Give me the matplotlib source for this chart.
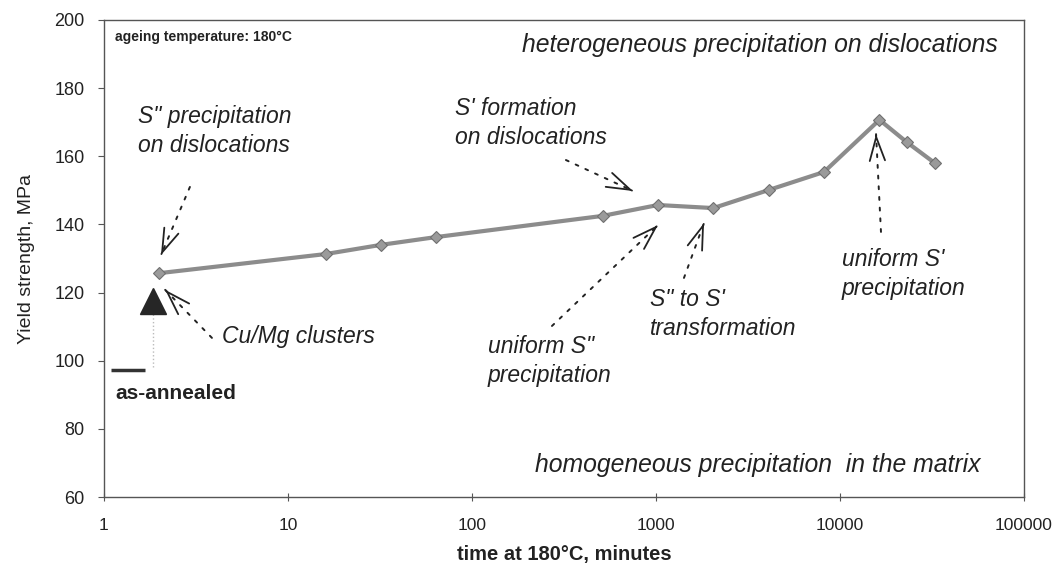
import numpy as np
import matplotlib
matplotlib.use('Agg')
import matplotlib.pyplot as plt

plt.rcParams['font.family'] = ['Liberation Sans', 'DejaVu Sans']

# ageing curve (minutes, MPa)
times = [2, 16, 32, 64, 512, 1024, 2048, 4096, 8192, 16384, 23000, 32768]
strength = [125.7, 131.3, 134.0, 136.3, 142.5, 145.7, 144.8, 150.1, 155.4, 170.7, 164.2, 158.0]

# Cu/Mg cluster point and as-annealed level
cluster_time = 1.85
cluster_strength = 117.5
annealed_times = [1.09, 1.67]
annealed_strength = 97.3

xticks = [1, 10, 100, 1000, 10000, 100000]
yticks = [60, 80, 100, 120, 140, 160, 180, 200]

# italic notes: text, x, y, alignment, size
notes = [
    ("S\" precipitation\non dislocations", 1.53, 167.4, 'left', 16.5),
    ("S' formation\non dislocations", 80.9, 169.8, 'left', 16.5),
    ("Cu/Mg clusters", 4.38, 107.0, 'left', 16.5),
    ("uniform S\"\nprecipitation", 122, 99.9, 'left', 16.5),
    ("S\" to S'\ntransformation", 927, 113.7, 'left', 16.5),
    ("uniform S'\nprecipitation", 10260, 125.5, 'left', 16.5),
    ("heterogeneous precipitation on dislocations", 72000, 192.7, 'right', 17.8),
    ("homogeneous precipitation  in the matrix", 57700, 69.4, 'right', 17.8),
]

# dotted arrows: (start, tip)
arrows = [
    ((2.93, 151.0), (2.04, 131.0)),
    ((324, 158.9), (750, 149.8)),
    ((272, 110.2), (1025, 139.8)),
    ((1419, 124.3), (1824, 140.4)),
    ((16700, 137.8), (15700, 166.5)),
    ((3.86, 106.7), (2.15, 120.8)),
]

ink = '#222222'

fig = plt.figure(figsize=(10.56, 5.70), dpi=100)
ax = fig.add_axes([104/1056, 1 - 497/570, 920/1056, 477/570])

ax.plot(times, strength, color='#8c8c8c', lw=3, marker='D', ms=6,
        mfc='#9a9a9a', mec='#707070', mew=0.8, zorder=3)

ax.vlines(cluster_time, annealed_strength + 1, cluster_strength, color='#bbbbbb',
          lw=1, ls=':', zorder=2)
ax.plot([cluster_time], [cluster_strength], marker='^', ms=19, color='#262626',
        ls='none', zorder=4)
ax.plot(annealed_times, [annealed_strength] * 2, color='#333333', lw=2.5,
        solid_capstyle='butt', zorder=3)

for (x0, y0), (x1, y1) in arrows:
    ax.annotate('', xy=(x1, y1), xytext=(x0, y0),
                arrowprops=dict(arrowstyle='-', ls=(0, (1.5, 4)), lw=1.4,
                                color=ink, shrinkA=0, shrinkB=0))
    lx = np.log10(x0) + 0.985 * (np.log10(x1) - np.log10(x0))
    ly = y0 + 0.985 * (y1 - y0)
    ax.annotate('', xy=(x1, y1), xytext=(10 ** lx, ly),
                arrowprops=dict(arrowstyle='->,head_length=1.7,head_width=0.55',
                                lw=1.3, color=ink, shrinkA=0, shrinkB=0))

for text, x, y, ha, size in notes:
    ax.text(x, y, text, ha=ha, va='center', fontsize=size, style='italic',
            color=ink, linespacing=1.32)

ax.text(1.15, 195, "ageing temperature: 180°C", fontsize=10, weight='bold',
        color=ink, va='center', ha='left')
ax.text(1.16, 90.5, "as-annealed", fontsize=15, weight='bold',
        color=ink, va='center', ha='left')

ax.set_xscale('log')
ax.set_xlim(1, 100000)
ax.set_ylim(60, 200)
ax.set_xticks(xticks)
ax.set_xticklabels([str(t) for t in xticks])
ax.xaxis.set_minor_locator(matplotlib.ticker.NullLocator())
ax.set_yticks(yticks)
ax.tick_params(axis='x', direction='inout', length=6, width=0.8, colors='#555555',
               labelcolor=ink, labelsize=12.5, pad=12)
ax.tick_params(axis='y', direction='out', length=4, width=0.8, colors='#555555',
               labelcolor=ink, labelsize=13, pad=10)

for s in ax.spines.values():
    s.set_color('#555555')
    s.set_linewidth(1)

ax.set_xlabel("time at 180°C, minutes", fontsize=14.5, weight='bold', color=ink,
              labelpad=9)
ax.set_ylabel("Yield strength, MPa", fontsize=14, color=ink, labelpad=14)

plt.savefig('out.png', dpi=100)
